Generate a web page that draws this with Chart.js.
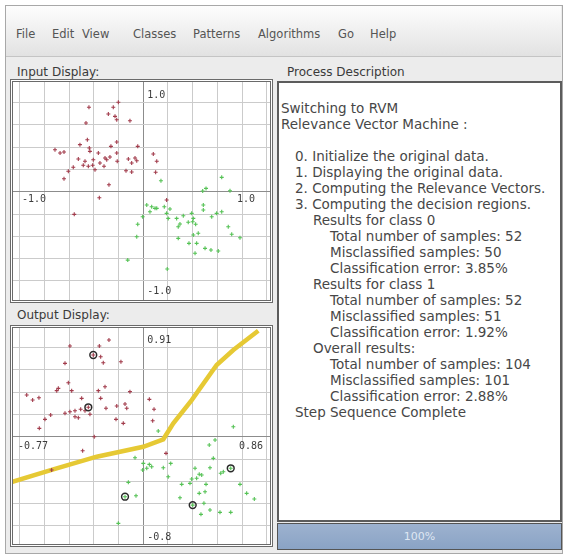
<!DOCTYPE html>
<html>
<head>
<meta charset="utf-8">
<script src="https://cdn.jsdelivr.net/npm/chart.js@4/dist/chart.umd.min.js"></script>
<style>
  body { margin:0; width:565px; height:554px; background:#ffffff; overflow:hidden; position:relative;
         font-family:"DejaVu Sans", sans-serif; }
  .win { position:absolute; left:5px; top:5px; width:556px; height:547px; border:1px solid #a8a8a8; background:#ececec; }
  .menubar { position:absolute; left:6px; top:6px; width:555px; height:50px;
             background:linear-gradient(#fdfdfd, #e2e2e2); border-bottom:1px solid #c4c4c4; }
  .menu { position:absolute; top:27px; font-size:11.5px; line-height:14px; color:#555; white-space:nowrap; }
  .lbl { position:absolute; font-size:12px; line-height:14px; color:#3a3a3a; white-space:nowrap; }
  .plotbox { position:absolute; left:10px; width:257px; border:3px double #6a6a6a; background:#fff; }
  .plotbox canvas { display:block; }
  .textbox { position:absolute; left:277px; top:81px; width:281px; height:437px; border:2px solid #5c5c5c; background:#fff; }
  .line { position:absolute; font-size:13.5px; line-height:16px; color:#474747; white-space:nowrap; }
  .progress { position:absolute; left:277px; top:523px; width:283px; height:25px; border:1px solid #555;
              background:linear-gradient(#9db2cf, #8aa3c5); color:#dfe7f3; font-size:11px; line-height:25px; text-align:center; }
</style>
</head>
<body>
<div class="win"></div>
<div class="menubar"></div>
<div class="menu" style="left:16px">File</div>
<div class="menu" style="left:52px">Edit</div>
<div class="menu" style="left:82px">View</div>
<div class="menu" style="left:133px">Classes</div>
<div class="menu" style="left:193px">Patterns</div>
<div class="menu" style="left:258px">Algorithms</div>
<div class="menu" style="left:338px">Go</div>
<div class="menu" style="left:370px">Help</div>

<div class="lbl" style="left:17px; top:65px">Input Display:</div>
<div class="lbl" style="left:287px; top:65px">Process Description</div>
<div class="lbl" style="left:17px; top:308px">Output Display:</div>

<div class="plotbox" style="top:79px; height:218px"><canvas id="inputChart" width="257" height="218"></canvas></div>
<div class="plotbox" style="top:325px; height:216px"><canvas id="outputChart" width="257" height="216"></canvas></div>

<div class="textbox" id="log"></div>
<div class="progress">100%</div>

<script>
// ---- data ----
// class 0 samples (red), class 1 samples (green), as [x, y]
const inputClass0 = [
  [-0.202,0.802],[-0.243,0.757],[-0.440,0.757],[-0.283,0.697],[-0.229,0.676],[-0.215,0.646],
  [-0.108,0.637],[-0.464,0.616],[-0.453,0.466],[-0.215,0.446],[-0.513,0.422],[-0.437,0.392],
  [-0.262,0.407],[-0.045,0.407],[-0.715,0.377],[-0.674,0.347],[-0.642,0.356],[-0.432,0.362],
  [-0.364,0.347],[-0.215,0.347],[-0.526,0.293],[-0.472,0.273],[-0.405,0.287],[-0.296,0.287],
  [-0.310,0.302],[-0.270,0.311],[-0.121,0.293],[-0.067,0.302],[-0.053,0.278],[-0.094,0.257],
  [-0.211,0.273],[-0.351,0.257],[-0.410,0.237],[-0.445,0.228],[-0.486,0.237],[-0.567,0.219],
  [-0.607,0.183],[-0.391,0.197],[-0.318,0.228],[-0.140,0.188],[-0.094,0.177],[-0.642,0.117],
  [-0.278,0.063],[-0.356,-0.054],[-0.559,-0.203],[0.081,0.338],[0.109,0.273],[0.100,0.174],
  [0.189,-0.074]
];
const inputClass1 = [
  [0.635,0.129],[0.508,0.030],[0.481,0.006],[0.702,0.009],[0.143,0.099],[0.028,-0.119],
  [0.068,-0.135],[0.095,-0.149],[0.054,-0.179],[0.109,-0.149],[0.170,-0.135],[0.216,-0.155],
  [0.189,-0.194],[0.202,-0.239],[0.486,-0.119],[0.486,-0.164],[0.392,-0.194],[0.405,-0.239],
  [0.324,-0.215],[0.270,-0.239],[0.364,-0.274],[0.424,-0.292],[0.554,-0.224],[0.594,-0.194],
  [0.635,-0.179],[0.400,-0.269],[0.283,-0.314],[0.297,-0.290],[-0.045,-0.292],[-0.053,-0.404],
  [0.445,-0.373],[0.405,-0.388],[0.283,-0.418],[0.370,-0.463],[0.432,-0.463],[0.500,-0.508],
  [0.548,-0.523],[0.607,-0.532],[0.419,-0.552],[0.688,-0.314],[0.716,-0.382],[0.783,-0.413],
  [-0.126,-0.613],[0.194,-0.693],[-0.005,-0.224]
];
const outputClass0 = [
  [-0.278,0.867],[-0.356,0.813],[-0.594,0.813],[-0.405,0.733],[-0.345,0.717],[-0.324,0.664],
  [-0.181,0.673],[-0.634,0.658],[-0.607,0.484],[-0.688,0.434],[-0.701,0.413],[-0.580,0.413],
  [-0.364,0.413],[-0.310,0.448],[-0.108,0.404],[-0.944,0.374],[-0.896,0.329],[-0.845,0.350],
  [-0.499,0.344],[-0.445,0.264],[-0.345,0.344],[-0.553,0.233],[-0.594,0.224],[-0.507,0.246],
  [-0.634,0.210],[-0.553,0.179],[-0.432,0.201],[-0.302,0.255],[-0.215,0.275],[-0.148,0.293],
  [-0.134,0.255],[-0.750,0.195],[-0.796,0.156],[-0.526,0.170],[-0.221,0.156],[-0.162,0.120],
  [-0.842,0.075],[-0.472,0.233],[0.049,0.335],[0.087,0.246],[0.076,0.143],[-0.397,0.000],
  [-0.491,-0.126],[-0.742,-0.299],[0.184,-0.149]
];
const outputClass1 = [
  [0.121,0.051],[0.581,-0.030],[0.534,-0.074],[-0.067,-0.188],[0.000,-0.239],[0.049,-0.248],
  [0.068,-0.269],[-0.005,-0.299],[0.028,-0.283],[0.162,-0.278],[0.222,-0.239],[0.202,-0.359],
  [0.419,-0.283],[0.453,-0.337],[0.473,-0.343],[0.432,-0.373],[0.392,-0.379],[0.540,-0.278],
  [0.567,-0.194],[0.627,-0.328],[0.648,-0.314],[0.708,-0.283],[0.311,-0.427],[0.378,-0.418],
  [0.508,-0.427],[0.783,-0.427],[-0.121,-0.409],[-0.148,-0.538],[-0.059,-0.529],[0.297,-0.547],
  [0.453,-0.508],[0.500,-0.493],[0.400,-0.613],[0.491,-0.597],[0.540,-0.657],[0.467,-0.696],
  [0.621,-0.678],[0.708,-0.678],[0.837,-0.508],[0.899,-0.559],[-0.202,-0.777],[0.729,0.090]
];
// relevance vectors found by the RVM
const relevanceVectors = [[-0.405,0.733],[-0.445,0.264],[0.708,-0.283],[-0.148,-0.538],[0.400,-0.613]];
// decision boundary between the two classes
const boundaryX = [-1.079,-0.729,-0.377,0.000,0.162,0.243,0.392,0.594,0.729,0.931];
const boundaryY = [-0.411,-0.292,-0.179,-0.090,-0.023,0.120,0.329,0.643,0.778,0.951];
// axis range captions
const inputRangeLabels = ['1.0','-1.0','1.0','-1.0'];
const outputRangeLabels = ['0.91','-0.77','0.86','-0.8'];
// process log
const logLines = [
  [0,'Switching to RVM'],[0,'Relevance Vector Machine :'],[0,''],
  [1,'0. Initialize the original data.'],[1,'1. Displaying the original data.'],
  [1,'2. Computing the Relevance Vectors.'],[1,'3. Computing the decision regions.'],
  [2,'Results for class 0'],[3,'Total number of samples: 52'],[3,'Misclassified samples: 50'],
  [3,'Classification error: 3.85%'],
  [2,'Results for class 1'],[3,'Total number of samples: 52'],[3,'Misclassified samples: 51'],
  [3,'Classification error: 1.92%'],
  [2,'Overall results:'],[3,'Total number of samples: 104'],[3,'Misclassified samples: 101'],
  [3,'Classification error: 2.88%'],
  [1,'Step Sequence Complete']
];

// ---- log panel ----
const indents = [2, 16, 34, 51];
const log = document.getElementById('log');
logLines.forEach(([lvl, txt], i) => {
  const d = document.createElement('div');
  d.className = 'line';
  d.style.left = indents[lvl] + 'px';
  d.style.top = (17 + i * 16) + 'px';
  d.textContent = txt;
  log.appendChild(d);
});

// ---- charts ----
const pts = arr => arr.map(([x, y]) => ({x, y}));
const GRID_STEP = 0.2;

function gridTicks(scale) {
  const t = [];
  const k0 = Math.ceil(scale.min / GRID_STEP - 1e-9), k1 = Math.floor(scale.max / GRID_STEP + 1e-9);
  for (let k = k0; k <= k1; k++) t.push({value: +(k * GRID_STEP).toFixed(3)});
  scale.ticks = t;
}
const gridColor = ctx => (ctx.tick && Math.abs(ctx.tick.value) < 1e-6) ? '#8c8c8c' : '#cbcbcb';

function axis(min, max) {
  return {
    type: 'linear', min, max,
    afterBuildTicks: gridTicks,
    ticks: {display: false},
    border: {display: false},
    grid: {color: gridColor, lineWidth: 1, drawTicks: false}
  };
}

const rangeLabels = {
  id: 'rangeLabels',
  afterDatasetsDraw(chart, args, o) {
    const {ctx, chartArea: a, scales: {x, y}} = chart;
    const x0 = x.getPixelForValue(0), y0 = y.getPixelForValue(0);
    ctx.save();
    ctx.font = '10px "DejaVu Sans Mono", monospace';
    ctx.fillStyle = '#3c3c3c';
    ctx.textBaseline = 'middle';
    ctx.textAlign = 'left';
    ctx.fillText(o.labels[0], x0 + 4, a.top + o.top);
    ctx.fillText(o.labels[1], a.left + o.left, y0 + o.side);
    ctx.fillText(o.labels[3], x0 + 4, a.bottom - o.bottom);
    ctx.textAlign = 'right';
    ctx.fillText(o.labels[2], a.right - o.right, y0 + o.side);
    ctx.restore();
  }
};

const RED = '#a23c4c', GREEN = '#55c255';
function sampleSet(data, color) {
  return {type: 'scatter', data: pts(data), pointStyle: 'cross', pointRadius: 2,
          borderColor: color, backgroundColor: color, borderWidth: 1.1, order: 1};
}
function baseOptions(ymin, ymax, labels, pos) {
  return {
    responsive: false, animation: false, devicePixelRatio: 1,
    layout: {padding: 0, autoPadding: false},
    plugins: {legend: {display: false}, tooltip: {enabled: false},
              rangeLabels: Object.assign({labels}, pos)},
    events: [],
    scales: {x: axis(-1.055, 1.026), y: axis(ymin, ymax)}
  };
}

new Chart(document.getElementById('inputChart'), {
  type: 'scatter',
  data: {datasets: [sampleSet(inputClass0, RED), sampleSet(inputClass1, GREEN)]},
  options: baseOptions(-0.971, 0.984, inputRangeLabels, {top: 13, left: 9, side: 8, right: 15, bottom: 9}),
  plugins: [rangeLabels]
});

new Chart(document.getElementById('outputChart'), {
  type: 'scatter',
  data: {datasets: [
    {type: 'line', data: boundaryX.map((x, i) => ({x, y: boundaryY[i]})),
     borderColor: '#e6c934', borderWidth: 4.5, pointRadius: 0, tension: 0, order: 3},
    sampleSet(outputClass0, RED), sampleSet(outputClass1, GREEN),
    {type: 'scatter', data: pts(relevanceVectors), pointStyle: 'circle', pointRadius: 3.4,
     borderColor: '#2b2b2b', backgroundColor: 'rgba(0,0,0,0)', borderWidth: 1.5, order: 0}
  ]},
  options: baseOptions(-0.962, 0.975, outputRangeLabels, {top: 12, left: 5, side: 10, right: 7, bottom: 7}),
  plugins: [rangeLabels]
});
</script>
</body>
</html>
